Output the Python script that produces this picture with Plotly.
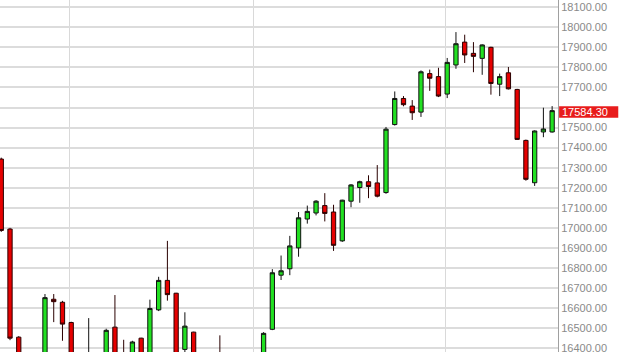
import plotly.graph_objects as go

# Candle index (trading sessions), left to right
sessions = list(range(64))

open_vals = [17343, 16994, 16455, 16280, 16150, 16320, 16644, 16629, 16528, 16330,
             16260, 16340, 16290, 16505, 16340, 16310, 16450, 16345, 16591, 16738,
             16674, 16394, 16480, 16330, 16250, 16300, 16280, 16200, 16260, 16240,
             16330, 16494, 16764, 16796, 16900, 17044, 17074, 17111, 17079, 16935,
             17133, 17201, 17230, 17224, 17176, 17515, 17645, 17607, 17577, 17769,
             17754, 17667, 17812, 17926, 17870, 17845, 17900, 17716, 17773, 17690,
             17436, 17225, 17478, 17478]
high_vals = [17350, 17000, 16460, 16300, 16350, 16670, 16670, 16636, 16532, 16360,
             16550, 16370, 16497, 16665, 16442, 16437, 16452, 16642, 16756, 16935,
             16676, 16579, 16482, 16360, 16340, 16464, 16320, 16300, 16330, 16360,
             16480, 16794, 16862, 16960, 17079, 17111, 17138, 17173, 17115, 17140,
             17218, 17235, 17262, 17313, 17503, 17680, 17657, 17637, 17785, 17789,
             17798, 17847, 17976, 17963, 17926, 17915, 17903, 17769, 17802, 17693,
             17440, 17486, 17599, 17607]
low_vals = [16980, 16440, 16250, 16100, 16120, 16300, 16530, 16437, 16300, 16200,
            16230, 16250, 16270, 16320, 16280, 16290, 16320, 16330, 16585, 16637,
            16340, 16380, 16300, 16220, 16200, 16250, 16150, 16160, 16200, 16220,
            16320, 16490, 16740, 16764, 16856, 17021, 17062, 17032, 16885, 16930,
            17103, 17125, 17148, 17152, 17170, 17510, 17606, 17538, 17553, 17683,
            17652, 17647, 17793, 17822, 17776, 17763, 17664, 17657, 17690, 17438,
            17235, 17209, 17452, 17475]
close_vals = [16987, 16450, 16280, 16140, 16320, 16652, 16632, 16520, 16330, 16250,
              16350, 16280, 16489, 16340, 16300, 16431, 16340, 16598, 16738, 16667,
              16360, 16510, 16330, 16250, 16300, 16280, 16200, 16260, 16240, 16330,
              16474, 16776, 16786, 16910, 17050, 17082, 17133, 17072, 16913, 17138,
              17214, 17230, 17206, 17158, 17492, 17645, 17614, 17574, 17778, 17746,
              17657, 17825, 17918, 17862, 17855, 17912, 17720, 17754, 17693, 17441,
              17242, 17483, 17493, 17584.30]

# y-axis tick values
y_ticks = list(range(16400, 18101, 100))
# vertical grid positions (period separators)
grid_positions = [7.86, 28.9, 50.85]

last_close = close_vals[-1]
# labels hidden behind the last-price box are left blank
y_ticktext = ["" if abs(v - last_close) < 40 else f"{v:.2f}" for v in y_ticks]

fig = go.Figure()
fig.add_trace(go.Candlestick(
    x=sessions, open=open_vals, high=high_vals, low=low_vals, close=close_vals,
    increasing=dict(line=dict(color='#111111', width=1), fillcolor='#22e022'),
    decreasing=dict(line=dict(color='#2a0000', width=1), fillcolor='#e60000'),
    whiskerwidth=0, showlegend=False, hoverinfo='skip'
))

# last-price marker box on the right axis
fig.add_shape(type='rect', xref='paper', yref='y',
              x0=1.002, x1=1.108, y0=last_close - 36, y1=last_close + 22,
              fillcolor='#e81c1c', line=dict(width=0), layer='above')
fig.add_annotation(
    x=1, xref='paper', y=last_close, yref='y',
    text=f"{last_close:.2f}", showarrow=False,
    xanchor='left', yanchor='middle', xshift=2, yshift=-1,
    font=dict(color='white', size=11, family='Liberation Sans, Arial')
)

fig.update_layout(
    width=624, height=354,
    margin=dict(l=0, r=66, t=0, b=0),
    paper_bgcolor='white', plot_bgcolor='white',
    boxgap=0.3,
    xaxis=dict(range=[-0.144, 63.67], rangeslider=dict(visible=False),
               tickvals=grid_positions, showticklabels=False, ticks='',
               showgrid=True, gridcolor='#d9d9d9', gridwidth=1,
               zeroline=False, showline=False),
    yaxis=dict(range=[16381, 18136], side='right', tickvals=y_ticks,
               ticktext=y_ticktext, ticklabeloverflow='allow',
               ticks='', showgrid=True, gridcolor='#dcdcdc',
               gridwidth=1.5, zeroline=False, showline=True, linecolor='#a0a0a0',
               linewidth=1, tickfont=dict(color='#8a8a8a', size=11,
                                          family='Liberation Sans, Arial')),
)

fig.write_html("out.html")
